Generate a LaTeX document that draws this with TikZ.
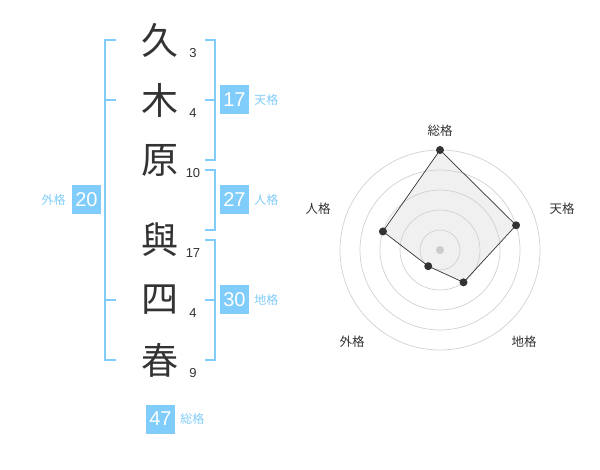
\documentclass[tikz,border=0pt]{standalone}
\usepackage{fontspec}
\setmainfont{Liberation Sans}
\newfontfamily\cjk{Noto Sans CJK JP}
\usetikzlibrary{positioning}
\definecolor{kakublue}{RGB}{128,204,250}
\definecolor{inkgray}{RGB}{51,51,51}
\begin{document}
\begin{tikzpicture}[x=1pt,y=1pt,node distance=5pt,
  char node/.style={font=\cjk\fontsize{37}{37}\selectfont,text=inkgray,inner sep=0},
  stroke node/.style={font=\fontsize{13}{13}\selectfont,text=inkgray,inner sep=0},
  score node/.style={fill=kakublue,text=white,minimum size=29pt,inner sep=0,font=\fontsize{20}{20}\selectfont},
  kaku node/.style={font=\cjk\fontsize{12}{12}\selectfont,text=kakublue,inner sep=0},
  bracket/.style={draw=kakublue,line width=2pt},
  ring/.style={draw=black!18,line width=.7pt},
  axis label/.style={font=\cjk\fontsize{12.5}{12.5}\selectfont,text=inkgray,inner sep=0}]
  \useasboundingbox (0,0) rectangle (600,-470);

  % name column
  \foreach \ch/\y/\n [count=\i] in {久/40/3,木/100/4,原/160/10,與/240/17,四/300/4,春/360/9}{
    \node[char node] (c\i) at (160,-\y) {\ch};
    \node[stroke node] (s\i) at (193,-\y-13) {\n};
  }

  % brackets
  \draw[bracket] (116,-40) -- (105,-40) -- (105,-360) -- (116,-360);
  \draw[bracket] (105,-100) -- (116,-100) (105,-300) -- (116,-300);
  \draw[bracket] (205,-40) -- (215,-40) -- (215,-160) -- (205,-160) (215,-100) -- (205,-100);
  \draw[bracket] (205,-170) -- (215,-170) -- (215,-230) -- (205,-230);
  \draw[bracket] (205,-240) -- (215,-240) -- (215,-360) -- (205,-360) (215,-300) -- (205,-300);

  % scores
  \node[score node] (ten) at (234.5,-100) {17};
  \node[kaku node] [right=of ten] {天格};
  \node[score node] (jin) at (234.5,-200) {27};
  \node[kaku node] [right=of jin] {人格};
  \node[score node] (chi) at (234.5,-300) {30};
  \node[kaku node] [right=of chi] {地格};
  \node[score node] (gai) at (86.5,-200) {20};
  \node[kaku node] [left=6pt of gai] {外格};
  \node[score node] (sou) at (160.5,-419) {47};
  \node[kaku node] [right=of sou] {総格};

  % radar chart
  \coordinate (ctr) at (440,-250);
  \foreach \a/\v [count=\i] in {90/5,18/4,-54/2,-126/1,162/3}
    \coordinate (p\i) at ([shift={(\a:\v*20)}]ctr);
  \fill[black!6] (p1) -- (p2) -- (p3) -- (p4) -- (p5) -- cycle;
  \foreach \r in {20,40,...,100}
    \draw[ring] (ctr) circle[radius=\r pt];
  \fill[black!20] (ctr) circle[radius=4pt];
  \draw[inkgray,line width=.7pt] (p1) -- (p2) -- (p3) -- (p4) -- (p5) -- cycle;
  \foreach \i in {1,...,5}
    \fill[inkgray] (p\i) circle[radius=4pt];

  \node[axis label] (l1) at (440,-131) {総格};
  \node[axis label] (l2) at (562,-209) {天格};
  \node[axis label] (l3) at (524,-342) {地格};
  \node[axis label] (l4) at (352,-342) {外格};
  \node[axis label] (l5) at (318,-209) {人格};
\end{tikzpicture}
\end{document}
